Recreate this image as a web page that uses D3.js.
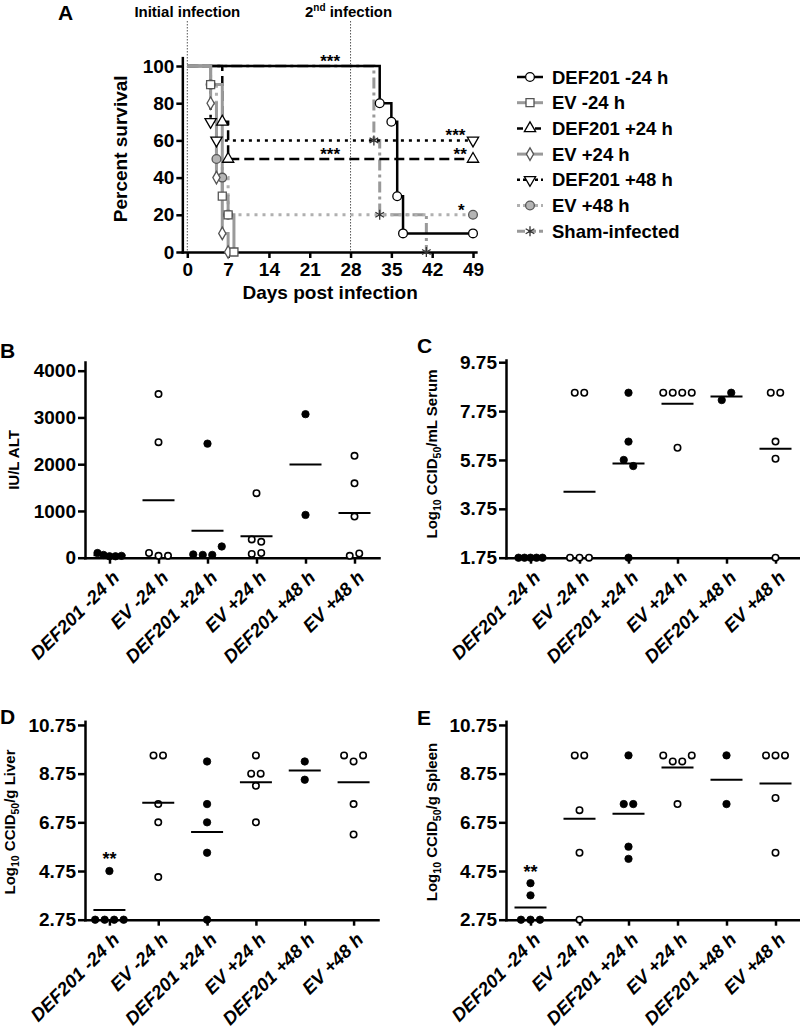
<!DOCTYPE html>
<html><head><meta charset="utf-8">
<script src="https://cdn.jsdelivr.net/npm/d3@7"></script>
<style>
body{margin:0;background:#fff}
svg{display:block}
text{font-family:"Liberation Sans",Arial,Helvetica,sans-serif;font-weight:bold;fill:#000}
</style>
</head><body>
<svg id="c" width="800" height="1030"></svg>
<script>
// ---------------- DATA ----------------
const survGroups = ["DEF201 -24 h","EV -24 h","DEF201 +24 h","EV +24 h","DEF201 +48 h","EV +48 h","Sham-infected"];
const survDays = [[0,33,35,36,37,49],[0,4,6,7,8],[0,6,7,49],[0,4,5,6,7],[0,4,5,49],[0,4,5,6,7,49],[0,32,33,41]];
const survPct  = [[100,80,70,30,10,10],[100,90,30,20,0],[100,70,50,50],[100,80,40,10,0],[100,70,60,60],[100,90,50,40,20,20],[100,60,20,0]];
const survTicksX = [0,7,14,21,28,35,42,49];
const survTicksY = [0,20,40,60,80,100];
const survStars = [{t:"***",day:24.5,pct:100},{t:"***",day:24.5,pct:50},{t:"***",day:46,pct:60},{t:"**",day:46.8,pct:50},{t:"*",day:47,pct:20}];
const infectionDays = [0,28];

const categories = ["DEF201 -24 h","EV -24 h","DEF201 +24 h","EV +24 h","DEF201 +48 h","EV +48 h"];
const filledCat = [true,false,true,false,true,false];

const altValues    = [[100,60,30,30,40],[3500,2470,100,40,40],[2440,70,60,60,240],[1380,390,340,80,100],[3070,915],[2180,1590,880,40,90]];
const altTicks     = [0,1000,2000,3000,4000];

const serumValues  = [[1.75,1.75,1.75,1.75,1.75],[8.5,8.5,1.75,1.75,1.75],[8.5,6.5,5.75,5.5,1.75],[8.5,8.5,8.5,8.5,6.25],[8.2,8.5],[8.5,8.5,6.5,5.8,1.75]];
const serumTicks   = [1.75,3.75,5.75,7.75,9.75];

const liverValues  = [[4.75,2.75,2.75,2.75,2.75],[9.5,9.5,7.5,6.75,4.5],[9.25,7.5,6.75,5.5,2.75],[9.5,8.75,8.75,8.25,6.75],[9.25,8.5],[9.5,9.25,9.5,7.5,6.25]];
const spleenValues = [[4.25,3.75,2.75,2.75,2.75],[9.5,9.5,7.25,5.5,2.75],[9.5,7.5,7.5,5.75,5.25],[9.5,9.25,9.25,9.5,7.5],[9.5,7.5],[9.5,9.5,9.5,7.75,5.5]];
const organTicks   = [2.75,4.75,6.75,8.75,10.75];

// ---------------- SETUP ----------------
const svg = d3.select("#c");
const AXW = 2.5;

function styleAxis(g, fs){
  g.attr("font-size",null).attr("font-family",null);
  g.selectAll(".domain").attr("stroke","#000").attr("stroke-width",AXW).attr("stroke-linecap","square");
  g.selectAll(".tick line").attr("stroke","#000").attr("stroke-width",AXW);
  g.selectAll("text").attr("font-size",fs).attr("fill","#000");
}

// ---------------- PANEL A ----------------
const ax = d3.scaleLinear().domain([0,49]).range([187.3,473]);
const ay = d3.scaleLinear().domain([0,100]).range([252,66]);
const axAxis = d3.scaleLinear().domain([-0.85,49.5]).range([ax(-0.85),ax(49.5)]);
const ayAxis = d3.scaleLinear().domain([0,104.5]).range([ay(0),ay(104.5)]);

svg.append("text").attr("x",58).attr("y",20).attr("font-size",21).text("A");

infectionDays.forEach(d=>{
  svg.append("line").attr("x1",ax(d)).attr("x2",ax(d)).attr("y1",21).attr("y2",ay(0))
    .attr("stroke","#555").attr("stroke-width",1).attr("stroke-dasharray","1.5,1.5");
});
svg.append("text").attr("x",ax(0)).attr("y",17).attr("font-size",15).attr("text-anchor","middle").text("Initial infection");
const t2 = svg.append("text").attr("x",ax(28)-2).attr("y",17).attr("font-size",15).attr("text-anchor","middle");
t2.append("tspan").text("2");
t2.append("tspan").attr("font-size",10).attr("dy",-6).text("nd");
t2.append("tspan").attr("dy",6).text(" infection");

const gA = svg.append("g");
const gYA = gA.append("g").attr("transform",`translate(${ax(-0.85)},0)`)
  .call(d3.axisLeft(ayAxis).tickValues(survTicksY).tickSize(6).tickSizeOuter(0).tickPadding(2));
styleAxis(gYA,19);
const gXA = gA.append("g").attr("transform",`translate(0,${ay(0)})`)
  .call(d3.axisBottom(axAxis).tickValues(survTicksX).tickSize(6).tickSizeOuter(0).tickPadding(5));
styleAxis(gXA,19);

svg.append("text").attr("transform",`translate(127,${(ay(0)+ay(104.5))/2 - 6}) rotate(-90)`)
  .attr("text-anchor","middle").attr("font-size",19).text("Percent survival");
svg.append("text").attr("x",(ax(0)+ax(49))/2).attr("y",299).attr("text-anchor","middle")
  .attr("font-size",19).text("Days post infection");

const sStyles = [
  {color:"#000",   dash:null,        w:2.5, sym:"circle",   fill:"#fff",  stroke:"#000"},
  {color:"#9a9a9a",dash:null,        w:3,   sym:"square",   fill:"#fff",  stroke:"#555"},
  {color:"#000",   dash:"10,5",      w:2.5, sym:"triangle", fill:"#fff",  stroke:"#000"},
  {color:"#9a9a9a",dash:null,        w:3,   sym:"diamond",  fill:"#fff",  stroke:"#555"},
  {color:"#000",   dash:"3,5",       w:2.5, sym:"triDown",  fill:"#fff",  stroke:"#000"},
  {color:"#b0b0b0",dash:"3,5",       w:3,   sym:"circle",   fill:"#b5b5b5",stroke:"#555"},
  {color:"#999",   dash:"11,4,3,4",  w:3,   sym:"asterisk", fill:"none",  stroke:"#333"}
];
function symPath(s){
  const m = {circle:[d3.symbolCircle,60],square:[d3.symbolSquare,64],triangle:[d3.symbolTriangle,55],
             diamond:[d3.symbolDiamond,45],triDown:[d3.symbolTriangle,55],asterisk:[d3.symbolAsterisk,70]};
  return d3.symbol().type(m[s][0]).size(m[s][1])();
}
function drawSym(g, st, x, y){
  g.append("path").attr("d",symPath(st.sym))
   .attr("transform",`translate(${x},${y})`+(st.sym==="triDown"?" rotate(180)":""))
   .attr("fill",st.fill).attr("stroke",st.stroke).attr("stroke-width",1.3);
}
const line = d3.line().curve(d3.curveStepAfter).x(d=>ax(d[0])).y(d=>ay(d[1]));
const drawOrder = [6,4,2,0,5,3,1];
drawOrder.forEach(i=>{
  const pts = survDays[i].map((d,k)=>[d,survPct[i][k]]);
  gA.append("path").attr("d",line(pts)).attr("fill","none")
    .attr("stroke",sStyles[i].color).attr("stroke-width",sStyles[i].w)
    .attr("stroke-dasharray",sStyles[i].dash);
});
drawOrder.forEach(i=>{
  survDays[i].forEach((d,k)=>{ if(k>0) drawSym(gA,sStyles[i],ax(d),ay(survPct[i][k])); });
});
survStars.forEach(s=>{
  gA.append("text").attr("x",ax(s.day)).attr("y",ay(s.pct)+1).attr("text-anchor","middle")
    .attr("font-size",17).text(s.t);
});

// legend
const lg = svg.append("g");
survGroups.forEach((name,i)=>{
  const yy = 77 + i*25.7;
  const st = sStyles[i];
  lg.append("line").attr("x1",517).attr("x2",543).attr("y1",yy).attr("y2",yy)
    .attr("stroke",st.color).attr("stroke-width",st.w).attr("stroke-dasharray",st.dash? (i===2?"6,3":i===6?"8,3":"3,3"):null);
  drawSym(lg,st,530,yy);
  lg.append("text").attr("x",552).attr("y",yy+6.5).attr("font-size",18.5).text(name);
});

// ---------------- SCATTER PANELS ----------------
function scatterPanel(cfg){
  const g = svg.append("g");
  const x = d3.scalePoint().domain(categories).range([cfg.x0,cfg.x1]).padding(0.5);
  const y = cfg.y;
  g.append("text").attr("x",cfg.lx).attr("y",cfg.ly).attr("font-size",21).text(cfg.letter);
  const yR = y.range();
  const gy = g.append("g").attr("transform",`translate(${cfg.x0},0)`)
    .call(d3.axisLeft(y).tickValues(cfg.ticks).tickSize(7).tickSizeOuter(0).tickPadding(2).tickFormat(cfg.fmt));
  styleAxis(gy,19);
  const yBase = yR[0];
  const gx = g.append("g").attr("transform",`translate(0,${yBase})`)
    .call(d3.axisBottom(x).tickSize(6).tickSizeOuter(0).tickFormat(""));
  styleAxis(gx,19);
  categories.forEach(c=>{
    g.append("text").attr("transform",`translate(${x(c)+11},${yBase+21}) rotate(-45)`)
      .attr("text-anchor","end").attr("font-size",18.5).attr("font-style","italic").text(c);
  });
  const yl = g.append("text").attr("transform",`translate(${cfg.ylx},${cfg.yly}) rotate(-90)`)
    .attr("text-anchor","middle").attr("font-size",15);
  cfg.ylabel.forEach(p=>{
    const ts = yl.append("tspan").text(p.t);
    if(p.sub){ ts.attr("font-size",10.5).attr("dy",4); }
    else if(p.after){ ts.attr("dy",-4); }
  });
  cfg.values.forEach((vals,ci)=>{
    const cx = x(categories[ci]);
    const order = vals.map((v,i)=>i).sort((a,b)=>y(vals[a])-y(vals[b]));
    const clusters=[]; let cur=[order[0]];
    for(let k=1;k<order.length;k++){
      if(Math.abs(y(vals[order[k]])-y(vals[order[k-1]]))<10) cur.push(order[k]);
      else { clusters.push(cur); cur=[order[k]]; }
    }
    clusters.push(cur);
    const off = new Array(vals.length).fill(0);
    clusters.forEach(cl=>{
      cl.sort((a,b)=>a-b);
      const n=cl.length, sp = n>=5?6:9.5;
      cl.forEach((idx,k)=>{ off[idx]=(k-(n-1)/2)*sp; });
    });
    vals.forEach((v,i)=>{
      g.append("circle").attr("cx",cx+off[i]).attr("cy",y(v)).attr("r",filledCat[ci]?3.7:3.2)
        .attr("fill",filledCat[ci]?"#000":"#fff").attr("stroke","#000").attr("stroke-width",filledCat[ci]?0.8:1.6);
    });
    const m = d3.mean(vals);
    g.append("line").attr("x1",cx-16).attr("x2",cx+16).attr("y1",y(m)).attr("y2",y(m))
      .attr("stroke","#000").attr("stroke-width",2);
  });
  if(cfg.star){
    g.append("text").attr("x",x(categories[0])).attr("y",y(cfg.star.v)-cfg.star.dy).attr("text-anchor","middle")
      .attr("font-size",18).text("**");
  }
}

scatterPanel({letter:"B",lx:0,ly:358,x0:85,x1:379,
  y:d3.scaleLinear().domain([0,4186]).range([557.7,362]),ticks:altTicks,fmt:d3.format("d"),
  values:altValues,ylx:19,yly:460,ylabel:[{t:"IU/L ALT"}]});
scatterPanel({letter:"C",lx:417,ly:353,x0:506,x1:800,
  y:d3.scaleLinear().domain([1.75,9.84]).range([557.7,360]),ticks:serumTicks,fmt:d3.format(".2f"),
  values:serumValues,ylx:437,yly:454,
  ylabel:[{t:"Log"},{t:"10",sub:true},{t:" CCID",after:true},{t:"50",sub:true},{t:"/mL Serum",after:true}]});
scatterPanel({letter:"D",lx:0,ly:724,x0:85,x1:378,
  y:d3.scaleLinear().domain([2.75,10.9]).range([919.7,721.3]),ticks:organTicks,fmt:d3.format(".2f"),
  values:liverValues,ylx:15,yly:822,star:{v:4.75,dy:6},
  ylabel:[{t:"Log"},{t:"10",sub:true},{t:" CCID",after:true},{t:"50",sub:true},{t:"/g Liver",after:true}]});
scatterPanel({letter:"E",lx:417,ly:725,x0:506,x1:800,
  y:d3.scaleLinear().domain([2.75,10.9]).range([919.7,721.3]),ticks:organTicks,fmt:d3.format(".2f"),
  values:spleenValues,ylx:437,yly:822,star:{v:4.25,dy:5},
  ylabel:[{t:"Log"},{t:"10",sub:true},{t:" CCID",after:true},{t:"50",sub:true},{t:"/g Spleen",after:true}]});
</script>
</body></html>
